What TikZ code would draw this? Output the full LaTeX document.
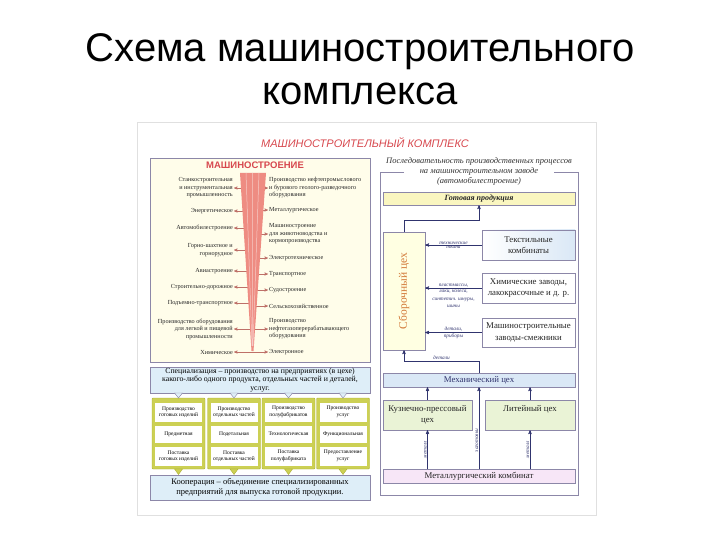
\documentclass[tikz,border=0pt]{standalone}
\usepackage{fontspec}
\setmainfont{Liberation Serif}
\newfontfamily\headfont{Liberation Sans}
\usepackage{tikz}
\usetikzlibrary{arrows}
\definecolor{posterred}{RGB}{215,72,78}
\definecolor{barred}{RGB}{238,140,130}
\definecolor{panelfill}{RGB}{255,253,234}
\definecolor{framegray}{RGB}{140,135,168}
\definecolor{specblue}{RGB}{222,238,248}
\definecolor{gridgreen}{RGB}{204,208,84}
\definecolor{gridedge}{RGB}{172,176,52}
\definecolor{readyyellow}{RGB}{250,246,192}
\definecolor{mechblue}{RGB}{218,232,246}
\definecolor{shopgreen}{RGB}{234,243,214}
\definecolor{metalpink}{RGB}{247,230,247}
\definecolor{navy}{RGB}{48,52,110}
\definecolor{sborfill}{RGB}{255,255,226}
\definecolor{sbortext}{RGB}{210,120,55}
\newcommand\branchfont{\fontsize{6.2}{7.5}\selectfont}
\newcommand\cellfont{\fontsize{5.5}{6.5}\selectfont}
\newcommand\flowfont{\fontsize{5.3}{7.8}\selectfont\itshape}
\newcommand\shopfont{\fontsize{8.8}{11.5}\selectfont}

\begin{document}
\begin{tikzpicture}[x=1pt,y=-1pt,>=stealth']
  \tikzstyle{branch}=[font=\branchfont,inner sep=1pt,text=black!85]
  \tikzstyle{left branch}=[branch,anchor=east,align=right]
  \tikzstyle{right branch}=[branch,anchor=west,align=left]
  \tikzstyle{twig}=[->,draw=barred!80!black,line width=0.4pt]
  \tikzstyle{box}=[draw=framegray,fill=specblue,minimum width=220pt,
  		   inner sep=0pt,align=center]
  \tikzstyle{column}=[draw=gridedge,fill=gridgreen,minimum width=53pt,
  		      minimum height=71pt,inner sep=0pt,rounded corners=1pt]
  \tikzstyle{cell}=[fill=white,minimum width=47pt,inner sep=0pt,
  		    align=center,font=\cellfont]
  \tikzstyle{shop}=[draw=framegray,inner sep=1pt,align=center,
  		    font=\shopfont,text=black!85]
  \tikzstyle{flow}=[->,draw=navy,line width=0.5pt]
  \tikzstyle{flow label}=[font=\flowfont,inner sep=0.6pt,align=center,text=navy]
  \useasboundingbox (0,0) rectangle (720,540);

  \node[anchor=base,font=\headfont\fontsize{40}{44}\selectfont] (title1)
    at (360,62) {Схема машиностроительного};
  \node[anchor=base,font=\headfont\fontsize{40}{44}\selectfont] (title2)
    at (360,105) {комплекса};

  \draw[black!12] (137,122) rectangle (596,515);
  \node[font=\headfont\itshape\fontsize{11}{13}\selectfont,text=posterred] (complex)
    at (365,143) {МАШИНОСТРОИТЕЛЬНЫЙ КОМПЛЕКС};

  \node[draw=framegray,fill=panelfill,minimum width=220pt,minimum height=204pt,
        inner sep=0pt] (industry) at (260,260) {};
  \node[font=\headfont\bfseries\fontsize{9.5}{11}\selectfont,text=posterred] (machining)
    at (255,165) {МАШИНОСТРОЕНИЕ};
  \coordinate (axis) at (253,173);

  \node[left branch] (lathe) at (234,188) {Станкостроительная\\и инструментальная\\промышленность};
  \node[left branch] (power) at (234,211) {Энергетическое};
  \node[left branch] (auto) at (234,228) {Автомобилестроение};
  \node[left branch] (mining) at (234,250) {Горно-шахтное и\\горнорудное};
  \node[left branch] (aircraft) at (234,271) {Авиастроение};
  \node[left branch] (road) at (234,287) {Строительно-дорожное};
  \node[left branch] (lifting) at (234,303) {Подъемно-транспортное};
  \node[left branch] (food) at (234,329) {Производство оборудования\\для легкой и пищевой\\промышленности};
  \node[left branch] (chemical) at (234,352) {Химическое};

  \node[right branch] (oilfield) at (268,188) {Производство нефтепромыслового\\и бурового геолого-разведочного\\оборудования};
  \node[right branch] (metallurgy) at (268,210) {Металлургическое};
  \node[right branch] (livestock) at (268,234) {Машиностроение\\для животноводства и\\кормопроизводства};
  \node[right branch] (electro) at (268,258) {Электротехническое};
  \node[right branch] (transport) at (268,274) {Транспортное};
  \node[right branch] (ships) at (268,290) {Судостроение};
  \node[right branch] (farm) at (268,306) {Сельскохозяйственное};
  \node[right branch] (refinery) at (268,329) {Производство\\нефтегазоперерабатывающего\\оборудования};
  \node[right branch] (electronics) at (268,352) {Электронное};

  \draw[twig] (lathe.east -| axis) -- (lathe.east);
  \draw[twig] (power.east -| axis) -- (power.east);
  \draw[twig] (auto.east -| axis) -- (auto.east);
  \draw[twig] (mining.east -| axis) -- (mining.east);
  \draw[twig] (aircraft.east -| axis) -- (aircraft.east);
  \draw[twig] (road.east -| axis) -- (road.east);
  \draw[twig] (lifting.east -| axis) -- (lifting.east);
  \draw[twig] (food.east -| axis) -- (food.east);
  \draw[twig] (chemical.east -| axis) -- (chemical.east);
  \draw[twig] (oilfield.west -| axis) -- (oilfield.west);
  \draw[twig] (metallurgy.west -| axis) -- (metallurgy.west);
  \draw[twig] (livestock.west -| axis) -- (livestock.west);
  \draw[twig] (electro.west -| axis) -- (electro.west);
  \draw[twig] (transport.west -| axis) -- (transport.west);
  \draw[twig] (ships.west -| axis) -- (ships.west);
  \draw[twig] (farm.west -| axis) -- (farm.west);
  \draw[twig] (refinery.west -| axis) -- (refinery.west);
  \draw[twig] (electronics.west -| axis) -- (electronics.west);

  \fill[barred] (240,173) -- (266,173) -- (253.5,351) -- (251.5,351) -- cycle;
  \draw[white!55!barred,line width=0.5pt] (246,173) -- (252,346)
    (252.5,173) -- (252.5,346) (259,173) -- (253,346);

  \node[box,minimum height=26pt,font=\fontsize{7.8}{8.5}\selectfont] (spec) at (260,380)
    {Специализация -- производство на предприятиях (в цехе)\\какого-либо одного продукта, отдельных частей и деталей,\\услуг.};

  \node[column] (goods) at (178.5,433.5) {};
  \node[column] (parts) at (234,433.5) {};
  \node[column] (semis) at (288.5,433.5) {};
  \node[column] (services) at (343,433.5) {};
  \foreach \cx in {178.5,234,288.5,343}{
    \fill[gridgreen,draw=gridedge] (\cx-4,469) -- (\cx+4,469) -- (\cx,474.5) -- cycle;
    \fill[specblue,draw=framegray] (\cx-4,393) -- (\cx+4,393) -- (\cx,398) -- cycle;
  }

  \node[cell,minimum height=19pt] (goods1) at (178.5,412) {Производство\\готовых изделий};
  \node[cell,minimum height=17pt] (goods2) at (178.5,434) {Предметная};
  \node[cell,minimum height=19pt] (goods3) at (178.5,456) {Поставка\\готовых изделий};
  \node[cell,minimum height=19pt] (parts1) at (234,412) {Производство\\отдельных частей};
  \node[cell,minimum height=17pt] (parts2) at (234,434) {Подетальная};
  \node[cell,minimum height=19pt] (parts3) at (234,456) {Поставка\\отдельных частей};
  \node[cell,minimum height=19pt] (semis1) at (288.5,412) {Производство\\полуфабрикатов};
  \node[cell,minimum height=17pt] (semis2) at (288.5,434) {Технологическая};
  \node[cell,minimum height=19pt] (semis3) at (288.5,456) {Поставка\\полуфабриката};
  \node[cell,minimum height=19pt] (services1) at (343,412) {Производство\\услуг};
  \node[cell,minimum height=17pt] (services2) at (343,434) {Функциональная};
  \node[cell,minimum height=19pt] (services3) at (343,456) {Предоставление\\услуг};

  \node[box,minimum height=25pt,font=\fontsize{8.5}{9.5}\selectfont] (coop) at (260,487.5)
    {Кооперация -- объединение специализированных\\предприятий для выпуска готовой продукции.};

  \draw[framegray] (404,172) -- (380,172) -- (380,495) -- (578,495) -- (578,172) -- (554,172);
  \node[font=\itshape\fontsize{8.5}{10}\selectfont,align=center,text=black!80] (sequence)
    at (479,171) {Последовательность производственных процессов\\на машиностроительном заводе\\(автомобилестроение)};

  \node[shop,fill=readyyellow,minimum width=192pt,minimum height=13pt,
        font=\bfseries\itshape\fontsize{8}{9}\selectfont] (ready) at (479,198.5) {Готовая продукция};
  \node[shop,fill=sborfill,minimum width=42pt,minimum height=118pt] (sbor) at (404,291) {};
  \node[rotate=90,font=\fontsize{11.5}{13}\selectfont,text=sbortext] (sborlabel)
    at (sbor.center) {Сборочный цех};
  \node[shop,left color=white,right color=mechblue,minimum width=93pt,minimum height=30pt]
    (textile) at (528.5,245) {Текстильные\\комбинаты};
  \node[shop,fill=white,minimum width=93pt,minimum height=30pt]
    (chem) at (528.5,288) {Химические заводы,\\лакокрасочные и д. р.};
  \node[shop,fill=white,minimum width=93pt,minimum height=29pt]
    (allied) at (528.5,332.5) {Машиностроительные\\заводы-смежники};
  \node[shop,fill=mechblue,minimum width=192pt,minimum height=14pt,text=navy]
    (mech) at (479,380) {Механический цех};
  \node[shop,fill=shopgreen,minimum width=89pt,minimum height=30pt]
    (forge) at (427.5,415) {Кузнечно-прессовый\\цех};
  \node[shop,fill=shopgreen,minimum width=90pt,minimum height=30pt]
    (cast) at (530,415) {Литейный цех\\\phantom{цех}};
  \node[shop,fill=metalpink,minimum width=192pt,minimum height=14pt]
    (metal) at (479,476.5) {Металлургический комбинат};

  \draw[flow] (sbor.north) -- ++(0,-12) -| (ready.south);
  \draw[flow] (textile.west) -- (textile.west -| sbor.east)
    node[midway,above,flow label] {технические}
    node[midway,below,flow label] {ткани};
  \draw[flow] (chem.west) -- (chem.west -| sbor.east)
    node[midway,above,flow label] {пластмассы,}
    node[midway,below,flow label] {лаки, колёса,\\синтетич. шнуры,\\шины};
  \draw[flow] (allied.west) -- (allied.west -| sbor.east)
    node[midway,above,flow label] {детали,}
    node[midway,below,flow label] {приборы};
  \draw[flow] (mech.north) -- ++(0,-12) -| node[pos=0.25,above,flow label] {детали} (sbor.south);
  \draw[flow] (forge.north) -- (forge.north |- mech.south);
  \draw[flow] (cast.north) -- (cast.north |- mech.south);
  \draw[flow] (metal.north -| forge.south) -- (forge.south)
    node[midway,rotate=90,anchor=south,flow label] {металл};
  \draw[flow] (metal.north) -- (mech.south)
    node[pos=0.2,rotate=90,anchor=south west,flow label] {заготовки};
  \draw[flow] (metal.north -| cast.south) -- (cast.south)
    node[midway,rotate=90,anchor=south,flow label] {металл};
\end{tikzpicture}
\end{document}
